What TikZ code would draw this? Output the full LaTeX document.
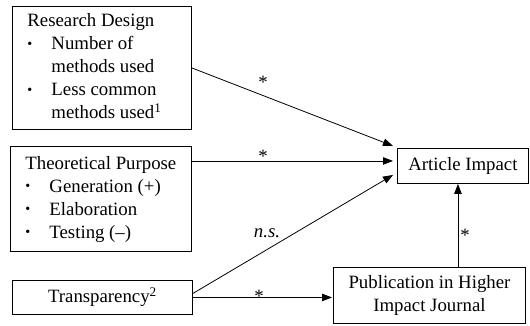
\documentclass[tikz,border=0pt]{standalone}
\usepackage{fontspec}
\setmainfont{Liberation Serif}
\usetikzlibrary{arrows.meta,calc}
\newcommand{\mybul}{\raisebox{1.5pt}{\scalebox{0.75}{\textbullet}}}
\begin{document}
\begin{tikzpicture}[x=1pt,y=-1pt,
  txt/.style={font=\fontsize{18.8}{23}\selectfont},
  box/.style={draw, line width=0.9pt, inner ysep=0pt, txt},
  link/.style={draw, line width=0.8pt, -{Triangle[length=10pt,width=7.5pt]}},
  lbl/.style={font=\fontsize{18.8}{23}\selectfont, anchor=base, inner sep=0pt}]
\useasboundingbox (0,0) rectangle (530,326);
% boxes
\node[box, inner xsep=15pt, minimum height=123pt, anchor=north west] (rd) at (12,6)
  {\makebox[149pt][l]{\begin{tabular}{@{}p{24pt}@{}l@{}}
   \multicolumn{2}{@{}l@{}}{Research Design}\\
   \mybul & Number of\\
          & methods used\\
   \mybul & Less common\\
          & methods used\textsuperscript{1}
   \end{tabular}}};
\node[box, inner xsep=15pt, minimum height=105pt, anchor=north west] (tp) at (10,146)
  {\makebox[151pt][l]{\begin{tabular}{@{}p{24pt}@{}l@{}}
   \multicolumn{2}{@{}l@{}}{Theoretical Purpose}\\
   \mybul & Generation (+)\\
   \mybul & Elaboration\\
   \mybul & Testing (\textendash)
   \end{tabular}}};
\node[box, minimum width=180pt, minimum height=34pt, anchor=north west] (tr) at (12,280)
  {Transparency\textsuperscript{2}};
\node[box, minimum width=131pt, minimum height=35pt, anchor=north west] (ai) at (397,148)
  {Article Impact};
\node[box, minimum width=192pt, minimum height=56pt, anchor=north west, align=center] (pub) at (333,267)
  {Publication in Higher\\Impact Journal};
% connectors
\coordinate (aiA) at ($(ai.west)+(-4,-20)$);
\coordinate (aiT) at ($(ai.west)+(-4,-5)$);
\coordinate (aiB) at ($(ai.west)+(-4,9)$);
\coordinate (trD) at ($(tr.east)+(0,-4)$);
\coordinate (v) at ($(ai.south)+(-5,0)$);
\draw[link] (rd.east) -- (aiA);
\draw[link] (tp.east |- aiT) -- (aiT);
\draw[link] (trD) -- (aiB);
\draw[link, shorten >=1pt] (tr.east) -- (tr.east -| pub.west);
\draw[link] (v |- pub.north) -- (v);
% labels
\node[lbl] (s1) at (263,89) {*};
\node[lbl] (s2) at (263,162) {*};
\node[lbl] (ns) at (267,237) {\textit{n.s.}};
\node[lbl] (s3) at (259,302) {*};
\node[lbl] (s4) at (465,241) {*};
\end{tikzpicture}
\end{document}
